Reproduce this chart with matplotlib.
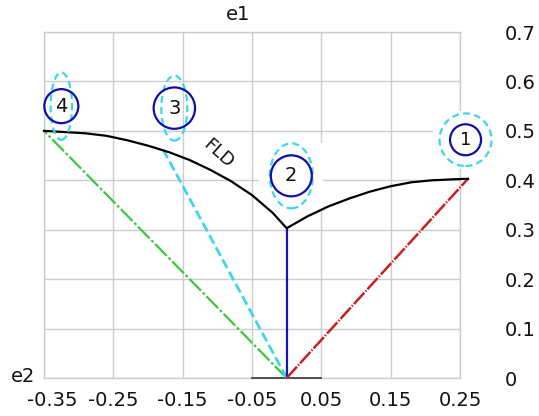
import matplotlib
matplotlib.use("Agg")
import matplotlib.pyplot as plt
from matplotlib.patches import Ellipse, Rectangle
import matplotlib.transforms as mtransforms

plt.rcParams['lines.scale_dashes'] = False
plt.rcParams['font.family'] = ['DejaVu Sans']

# ---- data ----
x_ticks = [-0.35, -0.25, -0.15, -0.05, 0.05, 0.15, 0.25]
x_tick_labels = ["-0.35", "-0.25", "-0.15", "-0.05", "0.05", "0.15", "0.25"]
y_ticks = [0, 0.1, 0.2, 0.3, 0.4, 0.5, 0.6, 0.7]
y_tick_labels = ["0", "0.1", "0.2", "0.3", "0.4", "0.5", "0.6", "0.7"]

# forming limit diagram curve (e2, e1)
fld_e2 = [-0.35, -0.32, -0.29, -0.26, -0.23, -0.20, -0.17, -0.14, -0.11,
          -0.08, -0.05, -0.02, 0.0,
          0.03, 0.06, 0.09, 0.12, 0.15, 0.18, 0.21, 0.24, 0.2615]
fld_e1 = [0.500, 0.4975, 0.495, 0.490, 0.481, 0.470, 0.457, 0.441, 0.421,
          0.398, 0.370, 0.334, 0.303,
          0.327, 0.347, 0.363, 0.377, 0.388, 0.396, 0.400, 0.402, 0.403]

# strain paths from the origin
path_green_e2 = [0.0, -0.35]
path_green_e1 = [0.0, 0.50]
path_cyan_e2 = [0.0, -0.178]
path_cyan_e1 = [0.0, 0.4615]
path_blue_e2 = [0.0, 0.0]
path_blue_e1 = [0.0, 0.303]
path_red_e2 = [0.0, 0.2615]
path_red_e1 = [0.0, 0.403]

# base segment on the e2 axis
base_e2 = [-0.05, 0.05]
base_e1 = [0.0, 0.0]

# strain-circle glyphs: label, centre (e2, e1)
circle_labels = ["1", "2", "3", "4"]
circle_e2 = [0.258, 0.0067, -0.162, -0.325]
circle_e1 = [0.482, 0.409, 0.546, 0.550]

fld_label = "FLD"
fld_label_pos = (-0.099, 0.453)

# ---- style (pixel sizes of glyphs) ----
blue_r_px = [15.5, 20.5, 20.7, 17.0]
cyan_w_px = [26.0, 21.5, 13.0, 10.7]   # half width
cyan_h_px = [26.3, 32.5, 32.5, 33.7]   # half height
box_px = [(33, 29), (32, 33), None, None]

W, H = 539, 416
fig = plt.figure(figsize=(W / 100, H / 100), dpi=100)
L, R, T, B = 44, 460, 32, 378
ax = fig.add_axes([L / W, (H - B) / H, (R - L) / W, (B - T) / H])
ax.set_xlim(-0.35, 0.25)
ax.set_ylim(0, 0.7)

xpp = 0.6 / (R - L)
ypp = 0.7 / (B - T)

grid_c = '#cccccc'
ax.set_xticks(x_ticks)
ax.set_xticklabels(x_tick_labels)
ax.set_yticks(y_ticks)
ax.set_yticklabels(y_tick_labels)
ax.yaxis.tick_right()
ax.tick_params(axis='x', length=0, pad=9, labelsize=14, colors='#111111')
ax.tick_params(axis='y', length=0, pad=32, labelsize=14, colors='#111111')
for lab in ax.yaxis.get_ticklabels():
    lab.set_horizontalalignment('left')
ax.grid(True, color=grid_c, lw=1.0)
ax.set_axisbelow(True)
for s in ax.spines.values():
    s.set_color(grid_c)
    s.set_linewidth(1.0)

# shift first x label slightly right as in reference
first = ax.xaxis.get_ticklabels()[0]
first.set_transform(first.get_transform() + mtransforms.ScaledTranslation(8 / 100, 0, fig.dpi_scale_trans))

# white boxes behind some glyphs
for i in range(len(circle_labels)):
    if box_px[i] is not None:
        bw, bh = box_px[i]
        ax.add_patch(Rectangle((circle_e2[i] - bw * xpp, circle_e1[i] - bh * ypp),
                               2 * bw * xpp, 2 * bh * ypp, facecolor='white',
                               edgecolor='none', zorder=2.6, clip_on=False))

ax.plot(base_e2, base_e1, color='#444444', lw=1.3, zorder=3, clip_on=False)

ax.plot(path_green_e2, path_green_e1, color='#3cc83c', lw=1.6,
        dashes=(12, 1.8, 2, 1.8), zorder=3)
ax.plot(path_cyan_e2, path_cyan_e1, color='#3fd6ea', lw=2.0,
        dashes=(7, 3), zorder=3)
ax.plot(path_blue_e2, path_blue_e1, color='#1414c0', lw=1.6, zorder=3)
ax.plot(path_red_e2, path_red_e1, color='#c82020', lw=1.8,
        dashes=(11, 1.2, 1, 1.2), zorder=3, clip_on=False)
ax.plot(fld_e2, fld_e1, color='black', lw=1.6, zorder=4, clip_on=False)

ax.text(fld_label_pos[0], fld_label_pos[1], fld_label, rotation=-42,
        ha='center', va='center', fontsize=13, color='#111111', zorder=5)

for i, lab in enumerate(circle_labels):
    cx, cy = circle_e2[i], circle_e1[i]
    ax.add_patch(Ellipse((cx, cy), 2 * cyan_w_px[i] * xpp, 2 * cyan_h_px[i] * ypp,
                         fill=False, edgecolor='#3fd6ea', lw=1.6,
                         linestyle=(0, (5, 3)), zorder=5, clip_on=False))
    ax.add_patch(Ellipse((cx, cy), 2 * blue_r_px[i] * xpp, 2 * blue_r_px[i] * ypp,
                         fill=False, edgecolor='#1010a8', lw=1.6, zorder=6,
                         clip_on=False))
    ax.text(cx, cy, lab, ha='center', va='center', fontsize=14 if lab != "1" else 13,
            color='#111111', zorder=7, clip_on=False)

ax.text((238.5 - L) / (R - L), (B - 14.5) / (B - T), "e1", transform=ax.transAxes,
        ha='center', va='center', fontsize=14, color='#111111')
ax.text((35 - L) / (R - L), (B - 376.5) / (B - T), "e2", transform=ax.transAxes,
        ha='right', va='center', fontsize=14, color='#111111')

fig.savefig("out.png", dpi=100)
